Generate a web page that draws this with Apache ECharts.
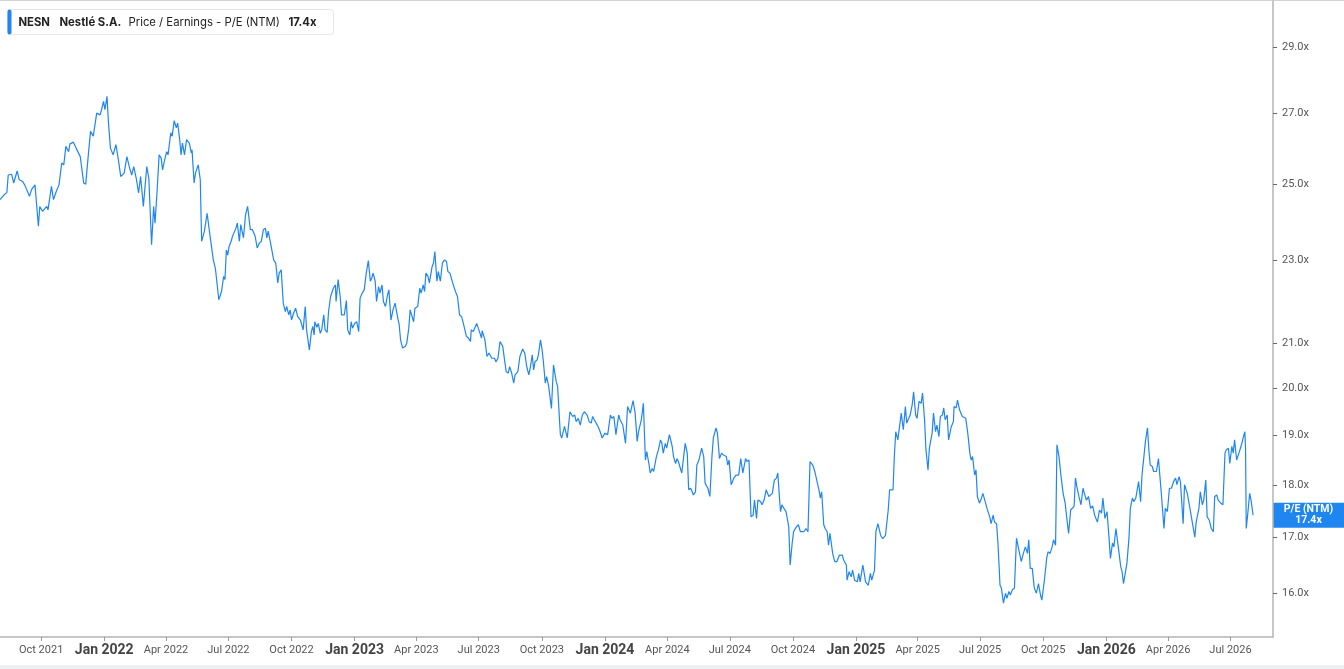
<!DOCTYPE html>
<html>
<head>
<meta charset="utf-8">
<title>NESN Nestlé S.A. - P/E (NTM)</title>
<script src="https://cdn.jsdelivr.net/npm/echarts@6/dist/echarts.min.js"></script>
<style>
  html, body { margin: 0; padding: 0; background: #fff; }
  #chart { width: 1344px; height: 669px; }
</style>
</head>
<body>
<div id="chart"></div>
<script>
// 日期（横轴）
var dates = [
  '2021-08-02','2021-08-04','2021-08-08','2021-08-12','2021-08-14','2021-08-19','2021-08-22','2021-08-27','2021-08-30',
  '2021-09-04','2021-09-07','2021-09-14','2021-09-17','2021-09-22','2021-09-27','2021-09-29',
  '2021-10-03','2021-10-09','2021-10-11','2021-10-16','2021-10-19','2021-10-23','2021-10-27','2021-10-31',
  '2021-11-03','2021-11-06','2021-11-10','2021-11-12','2021-11-17','2021-11-21','2021-11-27',
  '2021-12-02','2021-12-05','2021-12-09','2021-12-12','2021-12-16','2021-12-21','2021-12-26','2021-12-28','2021-12-31',
  '2022-01-02','2022-01-05','2022-01-07','2022-01-10','2022-01-14','2022-01-18','2022-01-22','2022-01-25','2022-01-30',
  '2022-02-03','2022-02-07','2022-02-10','2022-02-13','2022-02-17','2022-02-20','2022-02-23','2022-02-27',
  '2022-03-04','2022-03-07','2022-03-11','2022-03-14','2022-03-16','2022-03-19','2022-03-22','2022-03-25','2022-03-27','2022-03-30',
  '2022-04-02','2022-04-04','2022-04-08','2022-04-10','2022-04-13','2022-04-16','2022-04-18','2022-04-21','2022-04-23','2022-04-25','2022-04-28',
  '2022-05-01','2022-05-05','2022-05-08','2022-05-09','2022-05-12','2022-05-14','2022-05-18','2022-05-21','2022-05-23','2022-05-27','2022-05-29','2022-05-31',
  '2022-06-03','2022-06-05','2022-06-09','2022-06-12','2022-06-13','2022-06-17','2022-06-21','2022-06-24','2022-06-26','2022-06-28','2022-06-30',
  '2022-07-02','2022-07-05','2022-07-07','2022-07-09','2022-07-12','2022-07-14','2022-07-17','2022-07-19','2022-07-21','2022-07-23','2022-07-26','2022-07-29',
  '2022-08-02','2022-08-05','2022-08-09','2022-08-12','2022-08-15','2022-08-18','2022-08-21','2022-08-24','2022-08-26','2022-08-28','2022-08-31',
  '2022-09-05','2022-09-08','2022-09-11','2022-09-13','2022-09-16','2022-09-19','2022-09-22','2022-09-24','2022-09-27','2022-09-29',
  '2022-10-01','2022-10-04','2022-10-07','2022-10-10','2022-10-14','2022-10-16','2022-10-18','2022-10-21','2022-10-23','2022-10-27','2022-10-30',
  '2022-11-01','2022-11-03','2022-11-04','2022-11-07','2022-11-09','2022-11-12','2022-11-14','2022-11-17','2022-11-19','2022-11-22','2022-11-24','2022-11-27',
  '2022-12-01','2022-12-04','2022-12-05','2022-12-08','2022-12-11','2022-12-13','2022-12-17','2022-12-20','2022-12-22','2022-12-25','2022-12-27','2022-12-29',
  '2023-01-01','2023-01-04','2023-01-07','2023-01-09','2023-01-12','2023-01-15','2023-01-18','2023-01-21','2023-01-24','2023-01-26','2023-01-28','2023-01-31',
  '2023-02-02','2023-02-05','2023-02-07','2023-02-10','2023-02-12','2023-02-15','2023-02-18','2023-02-20','2023-02-23','2023-02-26',
  '2023-03-01','2023-03-05','2023-03-07','2023-03-09','2023-03-12','2023-03-16','2023-03-18','2023-03-21','2023-03-23','2023-03-25','2023-03-28','2023-03-30',
  '2023-04-03','2023-04-06','2023-04-08','2023-04-11','2023-04-13','2023-04-15','2023-04-18','2023-04-20','2023-04-24','2023-04-26','2023-04-28',
  '2023-05-01','2023-05-03','2023-05-06','2023-05-09','2023-05-12','2023-05-15','2023-05-17','2023-05-20','2023-05-24','2023-05-28','2023-05-31',
  '2023-06-03','2023-06-06','2023-06-09','2023-06-13','2023-06-16','2023-06-19','2023-06-20','2023-06-23','2023-06-28',
  '2023-07-02','2023-07-05','2023-07-06','2023-07-10','2023-07-13','2023-07-16','2023-07-20','2023-07-24','2023-07-26','2023-07-29',
  '2023-08-01','2023-08-05','2023-08-08','2023-08-10','2023-08-13','2023-08-15','2023-08-18','2023-08-21','2023-08-23','2023-08-27','2023-08-30',
  '2023-09-03','2023-09-06','2023-09-09','2023-09-12','2023-09-14','2023-09-17','2023-09-19','2023-09-21','2023-09-24','2023-09-26','2023-09-29',
  '2023-10-01','2023-10-03','2023-10-06','2023-10-08','2023-10-11','2023-10-13','2023-10-15','2023-10-18','2023-10-22','2023-10-24','2023-10-28','2023-10-30',
  '2023-11-03','2023-11-07','2023-11-11','2023-11-15','2023-11-18','2023-11-20','2023-11-23','2023-11-26','2023-11-29',
  '2023-12-02','2023-12-06','2023-12-09','2023-12-12','2023-12-14','2023-12-18','2023-12-22','2023-12-25','2023-12-28',
  '2024-01-01','2024-01-05','2024-01-09','2024-01-11','2024-01-14','2024-01-17','2024-01-21','2024-01-23','2024-01-27','2024-01-31',
  '2024-02-03','2024-02-07','2024-02-11','2024-02-14','2024-02-17','2024-02-19','2024-02-23','2024-02-26','2024-02-29',
  '2024-03-02','2024-03-05','2024-03-07','2024-03-10','2024-03-12','2024-03-16','2024-03-19','2024-03-22','2024-03-24','2024-03-26','2024-03-29','2024-03-31',
  '2024-04-04','2024-04-08','2024-04-10','2024-04-13','2024-04-15','2024-04-17','2024-04-20','2024-04-22','2024-04-25','2024-04-27','2024-04-30',
  '2024-05-02','2024-05-05','2024-05-09','2024-05-12','2024-05-14','2024-05-17','2024-05-19','2024-05-21','2024-05-24','2024-05-26','2024-05-30',
  '2024-06-02','2024-06-05','2024-06-07','2024-06-11','2024-06-13','2024-06-16','2024-06-19','2024-06-22','2024-06-26','2024-06-28','2024-06-30',
  '2024-07-03','2024-07-07','2024-07-10','2024-07-14','2024-07-17','2024-07-20','2024-07-24','2024-07-26','2024-07-29',
  '2024-08-01','2024-08-04','2024-08-06','2024-08-09','2024-08-11','2024-08-15','2024-08-17','2024-08-20','2024-08-23','2024-08-27',
  '2024-09-01','2024-09-04','2024-09-07','2024-09-09','2024-09-12','2024-09-13','2024-09-15','2024-09-18','2024-09-21','2024-09-25','2024-09-27','2024-09-30',
  '2024-10-02','2024-10-06','2024-10-09','2024-10-12','2024-10-17','2024-10-20','2024-10-23','2024-10-26','2024-10-30',
  '2024-11-02','2024-11-04','2024-11-08','2024-11-10','2024-11-12','2024-11-15','2024-11-17','2024-11-20','2024-11-22','2024-11-24','2024-11-26','2024-11-28',
  '2024-12-01','2024-12-04','2024-12-08','2024-12-12','2024-12-14','2024-12-18','2024-12-19','2024-12-22','2024-12-25','2024-12-27','2024-12-30',
  '2025-01-03','2025-01-05','2025-01-07','2025-01-11','2025-01-15','2025-01-19','2025-01-22','2025-01-24','2025-01-28','2025-01-30',
  '2025-02-02','2025-02-06','2025-02-09','2025-02-13','2025-02-17','2025-02-19','2025-02-24','2025-02-26','2025-02-28',
  '2025-03-03','2025-03-05','2025-03-08','2025-03-11','2025-03-14','2025-03-16','2025-03-19','2025-03-21','2025-03-24','2025-03-26','2025-03-29','2025-03-31',
  '2025-04-03','2025-04-06','2025-04-08','2025-04-11','2025-04-13','2025-04-16','2025-04-18','2025-04-22','2025-04-24','2025-04-27','2025-04-29',
  '2025-05-02','2025-05-04','2025-05-07','2025-05-09','2025-05-11','2025-05-14','2025-05-16','2025-05-20','2025-05-23','2025-05-24','2025-05-27','2025-05-29',
  '2025-06-01','2025-06-05','2025-06-07','2025-06-10','2025-06-13','2025-06-16','2025-06-18','2025-06-20','2025-06-23','2025-06-25','2025-06-27','2025-06-30',
  '2025-07-02','2025-07-05','2025-07-09','2025-07-11','2025-07-15','2025-07-17','2025-07-20','2025-07-22','2025-07-25','2025-07-27','2025-07-30',
  '2025-08-01','2025-08-04','2025-08-07','2025-08-09','2025-08-12','2025-08-14','2025-08-17','2025-08-20','2025-08-23','2025-08-26','2025-08-30',
  '2025-09-02','2025-09-05','2025-09-08','2025-09-10','2025-09-12','2025-09-15','2025-09-18','2025-09-21','2025-09-24','2025-09-27','2025-09-29',
  '2025-10-03','2025-10-06','2025-10-08','2025-10-11','2025-10-14','2025-10-16','2025-10-19','2025-10-21','2025-10-24','2025-10-27','2025-10-30',
  '2025-11-02','2025-11-05','2025-11-07','2025-11-10','2025-11-12','2025-11-15','2025-11-17','2025-11-19','2025-11-22','2025-11-25','2025-11-28','2025-11-30',
  '2025-12-03','2025-12-06','2025-12-09','2025-12-10','2025-12-12','2025-12-15','2025-12-19','2025-12-22','2025-12-25','2025-12-27','2025-12-30',
  '2026-01-02','2026-01-05','2026-01-07','2026-01-10','2026-01-12','2026-01-15','2026-01-19','2026-01-22','2026-01-24','2026-01-26','2026-01-29','2026-01-31',
  '2026-02-03','2026-02-05','2026-02-08','2026-02-10','2026-02-13','2026-02-15','2026-02-17','2026-02-20','2026-02-22','2026-02-25','2026-02-27',
  '2026-03-02','2026-03-04','2026-03-06','2026-03-09','2026-03-11','2026-03-15','2026-03-18','2026-03-20','2026-03-22','2026-03-26','2026-03-28','2026-03-31',
  '2026-04-03','2026-04-06','2026-04-09','2026-04-12','2026-04-14','2026-04-17','2026-04-19','2026-04-23','2026-04-25','2026-04-29',
  '2026-05-02','2026-05-05','2026-05-07','2026-05-10','2026-05-12','2026-05-16','2026-05-18','2026-05-21','2026-05-23','2026-05-26','2026-05-28','2026-05-31',
  '2026-06-03','2026-06-06','2026-06-08','2026-06-11','2026-06-13','2026-06-17','2026-06-20','2026-06-23','2026-06-25','2026-06-28','2026-06-30',
  '2026-07-03','2026-07-05','2026-07-07','2026-07-10','2026-07-12','2026-07-14','2026-07-17','2026-07-20','2026-07-22','2026-07-23','2026-07-24','2026-07-26','2026-07-29','2026-07-31',
  '2026-08-03'
];
// P/E (NTM) 数值
var pe = [
  24.57,24.52,24.70,24.76,25.24,25.26,25.02,25.35,25.11,
  25.06,24.97,24.66,24.84,24.97,23.87,24.39,
  24.26,24.39,24.30,24.93,24.57,24.79,24.97,25.57,
  25.52,26.04,25.89,26.11,26.16,25.99,25.75,
  25.02,24.99,25.85,26.47,26.33,27.00,26.95,27.10,27.35,
  27.10,27.50,26.76,25.99,25.80,26.09,25.61,25.20,25.29,
  25.75,25.43,25.24,25.47,25.11,24.75,25.20,24.39,
  25.47,25.15,23.39,24.39,23.95,24.79,25.80,25.71,25.38,25.66,
  25.89,25.80,26.43,26.33,26.78,26.57,26.71,26.23,25.80,26.13,25.80,
  26.23,26.13,25.85,25.94,25.02,25.29,25.52,25.11,23.48,23.74,23.69,24.21,
  23.78,23.74,23.01,22.80,22.84,22.03,22.23,22.60,22.52,23.26,23.13,
  23.35,23.48,23.61,23.69,23.82,23.95,23.48,23.91,23.91,23.57,24.17,24.39,
  23.78,23.78,23.61,23.31,23.43,23.48,23.78,23.82,23.57,23.74,23.48,
  23.01,22.93,22.44,22.68,22.76,21.95,21.75,21.87,21.67,21.79,
  21.55,21.71,21.83,21.63,21.55,21.55,21.32,21.87,21.32,20.86,21.28,
  21.40,21.20,21.51,21.38,21.47,21.24,21.32,21.67,21.32,21.26,21.75,22.11,
  22.31,22.39,21.99,22.52,22.11,21.67,21.67,22.01,21.32,21.20,21.51,21.36,
  21.47,21.51,21.28,22.07,22.19,22.27,22.68,22.99,22.48,22.56,22.68,22.48,
  21.99,22.35,22.19,22.39,21.99,21.87,22.15,22.27,21.55,21.79,
  21.95,21.59,21.44,21.09,20.90,20.94,21.01,21.36,21.79,21.75,21.51,21.83,
  21.87,22.31,22.19,22.39,22.23,22.68,22.60,22.44,22.84,22.93,23.22,
  22.48,22.72,22.48,22.93,23.01,22.97,22.72,22.68,22.44,22.23,22.11,
  21.67,21.63,21.44,21.17,21.13,21.05,21.32,21.28,21.47,
  21.28,21.13,21.30,21.09,20.71,20.79,20.67,20.67,20.59,20.67,
  21.05,20.94,20.59,20.37,20.34,20.48,20.34,20.12,20.30,20.37,20.71,
  20.88,20.79,20.48,20.30,20.45,20.75,20.41,20.59,20.63,20.75,21.09,
  20.90,20.63,20.12,20.26,20.04,20.08,19.57,20.52,20.15,20.04,19.02,18.95,
  19.19,18.95,19.50,19.40,19.43,19.29,19.36,19.22,19.43,
  19.50,19.43,19.29,19.26,19.40,19.29,19.19,19.08,18.95,
  19.05,19.02,19.43,19.36,19.40,19.02,19.43,19.33,19.22,18.84,
  19.61,19.47,19.74,19.47,18.88,19.08,19.33,19.68,18.50,
  18.67,18.43,18.24,18.33,18.27,18.57,18.71,18.91,18.84,18.64,18.84,18.74,
  19.02,18.78,18.57,18.43,18.53,18.47,18.33,18.24,18.60,18.84,18.64,
  17.91,17.94,17.81,17.87,18.40,18.50,18.47,18.74,18.57,18.04,17.94,
  17.78,18.57,18.95,19.16,19.05,18.53,18.64,18.60,18.57,18.40,18.50,
  18.01,18.14,18.20,18.20,18.53,18.24,18.53,18.47,18.50,
  17.39,17.42,17.71,17.36,17.71,17.68,17.62,17.71,17.91,17.78,
  17.84,18.10,18.14,18.24,17.65,17.49,17.62,17.55,17.49,17.20,16.50,16.90,
  17.11,17.20,17.24,17.11,17.11,17.17,17.11,18.47,18.40,
  18.27,18.24,17.91,17.75,17.87,17.24,17.17,17.11,16.86,17.08,16.90,16.71,
  16.56,16.56,16.68,16.68,16.59,16.50,16.23,16.38,16.29,16.41,16.23,
  16.20,16.35,16.20,16.50,16.20,16.14,16.35,16.23,16.41,17.11,
  17.26,17.04,16.98,17.04,17.52,17.91,17.91,18.60,19.08,
  18.91,18.91,19.47,19.12,19.61,19.26,19.36,19.43,19.65,19.93,19.43,19.36,
  19.72,19.68,19.90,19.33,18.71,18.30,18.74,19.05,19.47,19.08,19.22,
  18.98,19.40,19.43,19.58,19.33,19.43,18.91,19.19,19.29,19.61,19.58,19.75,
  19.54,19.40,19.43,19.36,19.05,18.64,18.50,18.57,18.20,18.30,17.78,17.65,
  17.71,17.84,17.65,17.55,17.39,17.26,17.42,17.29,17.26,16.90,16.14,
  16.09,15.83,16.00,15.91,16.03,15.97,16.06,16.09,16.99,16.80,16.56,
  16.71,16.83,16.71,16.96,16.44,16.44,16.09,16.00,16.17,15.97,15.88,
  16.26,16.62,16.74,16.71,16.83,16.96,16.86,18.81,18.57,18.17,17.84,
  17.65,17.29,17.08,17.52,17.55,17.59,18.14,17.97,17.78,17.62,17.94,17.84,
  17.71,17.78,17.55,17.52,17.60,17.42,17.29,17.52,17.46,17.75,17.36,
  17.49,16.99,16.62,16.90,16.83,17.17,16.77,16.47,16.38,16.17,16.38,16.53,
  16.99,17.55,17.75,17.68,17.75,17.91,18.07,17.68,18.20,18.60,18.88,
  19.16,18.71,18.40,18.37,18.27,18.27,18.53,18.50,17.87,17.17,17.55,17.49,
  17.94,17.94,18.07,18.14,18.01,18.17,18.07,17.26,18.01,17.84,
  17.62,17.39,17.36,17.01,17.29,17.55,17.87,17.62,17.71,18.10,17.39,17.33,
  17.17,17.11,17.78,17.81,17.71,17.65,17.62,18.64,18.71,18.74,18.43,
  18.78,18.64,18.91,18.50,18.47,18.67,18.81,18.98,19.08,18.71,17.17,17.42,17.84,17.71,
  17.42
];
// 纵轴刻度（对数刻度）
var yTicks = [16, 17, 18, 19, 20, 21, 23, 25, 27, 29];
// 横轴刻度（季度）
var xTicks = [
  '2021-10-01','2022-01-01','2022-04-01','2022-07-01','2022-10-01',
  '2023-01-01','2023-04-01','2023-07-01','2023-10-01',
  '2024-01-01','2024-04-01','2024-07-01','2024-10-01',
  '2025-01-01','2025-04-01','2025-07-01','2025-10-01',
  '2026-01-01','2026-04-01','2026-07-01'
];
var monthNames = ['Jan','Feb','Mar','Apr','May','Jun','Jul','Aug','Sep','Oct','Nov','Dec'];

var blue = '#1f86f0';
var chart = echarts.init(document.getElementById('chart'));

// 横轴用时间戳，纵轴用自然对数画成对数坐标
var lineData = dates.map(function (d, i) {
  return [Date.parse(d), Math.log(pe[i])];
});
var xTickValues = xTicks.map(function (d) { return Date.parse(d); });
var logTicks = yTicks.map(function (v) { return Math.log(v); });

chart.setOption({
  animation: false,
  backgroundColor: '#fff',
  grid: { left: 0, right: 71, top: 1, bottom: 32, containLabel: false },
  xAxis: {
    type: 'value',
    min: Date.parse('2021-08-02'),
    max: Date.parse('2026-09-01'),
    axisLine: { show: true, onZero: false, lineStyle: { color: '#b4b4b4', width: 1.5 } },
    axisTick: { show: true, length: 4, customValues: xTickValues, lineStyle: { color: '#9a9a9a' } },
    splitLine: { show: false },
    axisLabel: {
      customValues: xTickValues,
      margin: 5,
      formatter: function (val) {
        var d = new Date(val);
        var s = monthNames[d.getUTCMonth()] + ' ' + d.getUTCFullYear();
        return d.getUTCMonth() === 0 ? '{b|' + s + '}' : '{a|' + s + '}';
      },
      rich: {
        a: { fontFamily: 'Roboto', fontSize: 11, color: '#555', lineHeight: 16 },
        b: { fontFamily: 'Roboto', fontSize: 14, fontWeight: 'bold', color: '#444', lineHeight: 16 }
      }
    }
  },
  yAxis: {
    type: 'value',
    position: 'right',
    min: Math.log(15.255),
    max: Math.log(30.51),
    axisLine: { show: true, lineStyle: { color: '#b4b4b4', width: 1.5 } },
    axisTick: { show: true, length: 4, customValues: logTicks, lineStyle: { color: '#666' } },
    splitLine: { show: false },
    axisLabel: {
      customValues: logTicks,
      margin: 9,
      fontFamily: 'Roboto',
      fontSize: 11,
      color: '#555',
      formatter: function (v) { return Math.exp(v).toFixed(1) + 'x'; }
    }
  },
  series: [{
    name: 'P/E (NTM)',
    type: 'line',
    data: lineData,
    showSymbol: false,
    symbol: 'none',
    lineStyle: { color: blue, width: 1.2 },
    silent: true
  }]
});

// 右侧最新值标签，位置由坐标轴换算
var last = lineData[lineData.length - 1];
var tagY = chart.convertToPixel({ gridIndex: 0 }, last)[1];
var lastText = pe[pe.length - 1].toFixed(1) + 'x';

chart.setOption({
  graphic: [
    { type: 'rect', left: 0, top: 0, shape: { width: 1344, height: 1 }, style: { fill: '#cfd2d6' } },
    { type: 'rect', left: 0, top: 665, shape: { width: 1344, height: 4 }, style: { fill: '#eceef1' } },
    {
      type: 'group', left: 7, top: 9,
      children: [
        { type: 'rect', shape: { x: 0, y: 0, width: 326, height: 25, r: 3 }, style: { fill: '#fff', stroke: '#e4e6e9', lineWidth: 1 } },
        { type: 'rect', shape: { x: 0, y: 0, width: 4, height: 25, r: 2 }, style: { fill: blue } },
        { type: 'text', x: 11, y: 13, style: { text: 'NESN', fontFamily: 'Inter', fontSize: 11.3, fontWeight: 'bold', fill: '#222', verticalAlign: 'middle' } },
        { type: 'text', x: 52, y: 13, style: { text: 'Nestlé S.A.', fontFamily: 'Inter', fontSize: 11.3, fontWeight: 'bold', fill: '#222', verticalAlign: 'middle' } },
        { type: 'text', x: 121, y: 13, style: { text: 'Price / Earnings - P/E (NTM)', fontFamily: 'Inter', fontSize: 11.3, fill: '#222', verticalAlign: 'middle' } },
        { type: 'text', x: 281, y: 13, style: { text: lastText, fontFamily: 'Inter', fontSize: 11.3, fontWeight: 'bold', fill: '#222', verticalAlign: 'middle' } }
      ]
    },
    {
      type: 'group', left: 1273, top: tagY - 12.5,
      children: [
        { type: 'rect', shape: { x: 0, y: 0, width: 71, height: 25 }, style: { fill: blue } },
        { type: 'text', x: 35.5, y: 7, style: { text: 'P/E (NTM)', fontFamily: 'Roboto', fontSize: 10.5, fontWeight: 'bold', fill: '#fff', align: 'center', verticalAlign: 'middle' } },
        { type: 'text', x: 35.5, y: 18, style: { text: lastText, fontFamily: 'Roboto', fontSize: 10.5, fontWeight: 'bold', fill: '#fff', align: 'center', verticalAlign: 'middle' } }
      ]
    }
  ]
});
</script>
</body>
</html>
